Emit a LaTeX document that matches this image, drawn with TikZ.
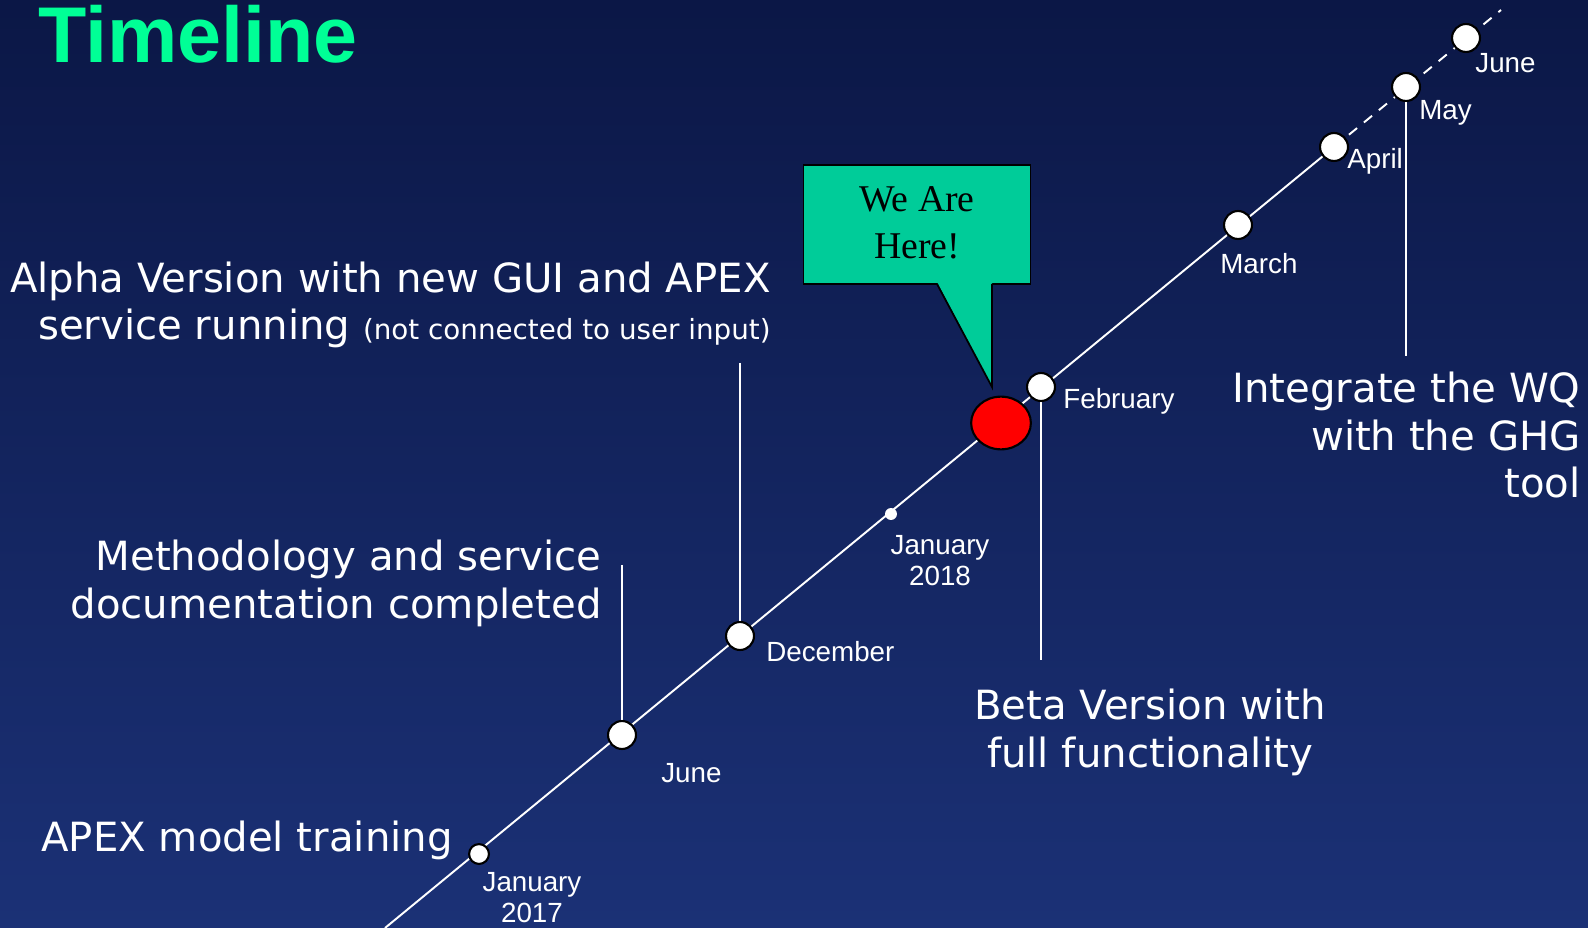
\documentclass[tikz,border=0pt]{standalone}
\usepackage{fontspec}
\usetikzlibrary{shapes.geometric}
\newfontfamily\armfont{Liberation Sans}
\newfontfamily\widefont{DejaVu Sans}
\newfontfamily\romanfont{Liberation Serif}
\definecolor{bgtop}{RGB}{11,23,70}
\definecolor{bgbot}{RGB}{27,49,118}
\definecolor{titlegreen}{RGB}{0,255,150}
\definecolor{calloutgreen}{RGB}{0,204,153}
\newcommand{\on}{red}
\newcommand{\off}{white}

\begin{document}
\begin{tikzpicture}[x=0.02cm,y=-0.02cm,
    month/.style={font=\armfont\fontsize{15.8}{17.6}\selectfont, text=white, inner sep=0pt},
    goal/.style={font=\widefont\fontsize{22.9}{27.2}\selectfont, text=white, inner sep=0pt},
    stop/.style={circle, draw=black, fill=\off, line width=1.2pt, minimum size=15.9pt, inner sep=0pt},
    axis/.style={draw=white, line width=1.1pt},
    tick/.style={draw=white, line width=1.1pt}]
    \shade[top color=bgtop, bottom color=bgbot] (0,0) rectangle (1588,928);
    \useasboundingbox (0,0) rectangle (1588,928);
    %\node[anchor=north west] at (0,0) {};
    \node[anchor=base west, inner sep=0pt, text=titlegreen,
        font=\armfont\bfseries\fontsize{45}{50}\selectfont] (title) at (38,63) {Timeline};
    % points on the time line
    \coordinate (start) at (385,928);
    \coordinate (p1) at (479,854);
    \coordinate (p2) at (622,735);
    \coordinate (p3) at (740,636);
    \coordinate (p4) at (891,514);
    \coordinate (p5) at (1001,423);
    \coordinate (p6) at (1041,387);
    \coordinate (p7) at (1238,225);
    \coordinate (p8) at (1334,147);
    \coordinate (p9) at (1406,87);
    \coordinate (p10) at (1466,38);
    \coordinate (end) at (1501,10);
    \draw[axis] (start) -- (p8);
    \draw[axis, dash pattern=on 6pt off 5pt] (p8) -- (end);
    % milestone ticks
    \coordinate (alphaend) at (740,363);
    \coordinate (methodend) at (622,565);
    \coordinate (betaend) at (1041,660);
    \coordinate (wqend) at (1406,356);
    \draw[tick] (alphaend) -- (p3);
    \draw[tick] (methodend) -- (p2);
    \draw[tick] (p6) -- (betaend);
    \draw[tick] (p9) -- (wqend);
    % dots
    \node[stop, minimum size=11.3pt] (jan17) at (p1) {};
    \node[stop] (jun17) at (p2) {};
    \node[stop] (dec17) at (p3) {};
    \node[circle, fill=\off, minimum size=6.8pt, inner sep=0pt] (jan18) at (p4) {};
    \node[stop, ellipse, fill=\on, minimum width=34pt, minimum height=30pt] (now) at (p5) {};
    \node[stop] (feb18) at (p6) {};
    \node[stop] (mar18) at (p7) {};
    \node[stop] (apr18) at (p8) {};
    \node[stop] (may18) at (p9) {};
    \node[stop] (jun18) at (p10) {};
    % month labels (base = last line)
    \node[month, anchor=base, align=center] (l1) at (532,922) {January\\2017};
    \node[month, anchor=base west] (l2) at (661,782) {June};
    \node[month, anchor=base west] (l3) at (766,661) {December};
    \node[month, anchor=base, align=center] (l4) at (940,585) {January\\2018};
    \node[month, anchor=base west] (l6) at (1063,409) {February};
    \node[month, anchor=base west] (l7) at (1220,274) {March};
    \node[month, anchor=base west] (l8) at (1347,169) {April};
    \node[month, anchor=base west] (l9) at (1419,120) {May};
    \node[month, anchor=base west] (l10) at (1475,73) {June};
    % milestones
    \node[goal, anchor=base east, align=right] (alpha) at (771,340)
        {Alpha Version with new GUI and APEX\\service running {\fontsize{15.8}{17}\selectfont(not connected to user input)}};
    \node[goal, anchor=base east, align=right] (method) at (602,618)
        {Methodology and service\\documentation completed};
    \node[goal, anchor=base west] (training) at (41,851) {APEX model training};
    \node[goal, anchor=base, align=center] (beta) at (1150,767) {Beta Version with\\full functionality};
    \node[goal, anchor=base east, align=right] (wq) at (1581,498) {Integrate the WQ\\with the GHG\\tool};
    % we are here
    \node[draw=black, fill=calloutgreen, line width=1pt, minimum width=129.3pt, minimum height=67.5pt,
        inner sep=0pt] (bubble) at (917,224.5) {};
    \coordinate (tip) at (992,387);
    \fill[calloutgreen] (937,282) -- (992,282) -- (tip) -- cycle;
    \draw[line width=1pt, line join=miter] (937,284) -- (tip) -- (992,284);
    \node[anchor=base, align=center, inner sep=0pt, text=black,
        font=\romanfont\fontsize{21.5}{27.2}\selectfont] (heretext) at (917,259) {We Are\\Here!};
\end{tikzpicture}
\end{document}
